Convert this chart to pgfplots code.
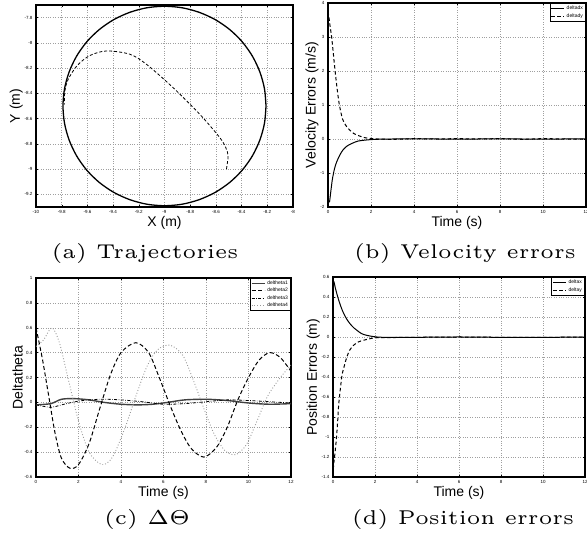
\documentclass[border=0pt]{standalone}
\usepackage{pgfplots}
\pgfplotsset{compat=1.18}
\usepackage{fontspec}
\newfontfamily\hv{Liberation Sans}
\newcommand{\capt}[1]{\scalebox{4}{\fontsize{5}{6}\selectfont #1}}
\begin{document}
\begin{tikzpicture}[x=1pt,y=1pt]
\useasboundingbox (0,0) rectangle (587,541);
\pgfplotsset{
 mat/.style={scale only axis, grid=major,
  major grid style={gray!75, dotted, line width=0.45pt},
  axis line style={line width=1.3pt},
  tick align=inside, major tick length=2.2pt,
  tick style={black, line width=0.4pt},
  tick label style={font=\hv\fontsize{4.5}{5}\selectfont},
  label style={font=\hv\fontsize{14}{16}\selectfont},
  /pgf/number format/assume math mode=true, scaled ticks=false,
  yticklabel style={/pgf/number format/fixed},
  xticklabel style={/pgf/number format/fixed},
  xlabel style={yshift=4pt}, ylabel style={yshift=-5pt},
  legend cell align=left,
  legend style={font=\hv\fontsize{5}{5.5}\selectfont, draw=black, line width=1.1pt,
    inner sep=0.6pt, row sep=-1.5pt, at={(1,1)}, anchor=north east},
  legend image code/.code={\draw[##1] (0pt,0pt) -- (13pt,0pt);}
 },
}
% (a) trajectories
\begin{axis}[mat, at={(36pt,334pt)}, anchor=south west, width=257pt, height=202pt,
  xmin=-10, xmax=-8, ymin=-9.3, ymax=-7.7,
  xtick={-10,-9.8,-9.6,-9.4,-9.2,-9,-8.8,-8.6,-8.4,-8.2,-8},
  ytick={-9.2,-9,-8.8,-8.6,-8.4,-8.2,-8,-7.8},
  xlabel={X (m)}, ylabel={Y (m)}]
\addplot[black, line width=1.3pt, smooth] coordinates {
(-8.21,-8.5) (-8.222,-8.363) (-8.258,-8.23) (-8.316,-8.105) (-8.395,-7.992)
(-8.492,-7.895) (-8.605,-7.816) (-8.73,-7.758) (-8.863,-7.722) (-9,-7.71)
(-9.137,-7.722) (-9.27,-7.758) (-9.395,-7.816) (-9.508,-7.895) (-9.605,-7.992)
(-9.684,-8.105) (-9.742,-8.23) (-9.778,-8.363) (-9.79,-8.5) (-9.778,-8.637)
(-9.742,-8.77) (-9.684,-8.895) (-9.605,-9.008) (-9.508,-9.105) (-9.395,-9.184)
(-9.27,-9.242) (-9.137,-9.278) (-9,-9.29) (-8.863,-9.278) (-8.73,-9.242)
(-8.605,-9.184) (-8.492,-9.105) (-8.395,-9.008) (-8.316,-8.895) (-8.258,-8.77)
(-8.222,-8.637) (-8.21,-8.5)};
\addplot[black, line width=0.8pt, dash pattern=on 3pt off 2pt, smooth] coordinates {
(-8.518,-9.0) (-8.505,-8.896) (-8.523,-8.83) (-8.57,-8.75) (-8.725,-8.566)
(-8.933,-8.355) (-9.14,-8.17) (-9.27,-8.09) (-9.45,-8.064) (-9.58,-8.10)
(-9.68,-8.18) (-9.75,-8.29) (-9.775,-8.38) (-9.78,-8.49)};
\end{axis}
% (b) velocity errors
\begin{axis}[mat, at={(328pt,334pt)}, anchor=south west, width=258pt, height=204pt,
  xmin=0, xmax=12, ymin=-2, ymax=4, xtick={0,2,...,12}, ytick={-2,-1,0,1,2,3,4},
  xlabel={Time (s)}, ylabel={Velocity Errors (m/s)}]
\addplot[black, line width=1pt, smooth] coordinates {
(0,-1.75) (0.03,-1.82) (0.07,-1.85) (0.12,-1.6) (0.2,-1.2) (0.3,-0.88) (0.4,-0.68)
(0.55,-0.47) (0.7,-0.32) (0.9,-0.2) (1.15,-0.12) (1.4,-0.06) (1.77,-0.03) (2.2,-0.01)
(3,0) (4,0.005) (5,0) (6,-0.005) (7,0) (8,0.005) (9,0) (10,-0.005) (11,0) (12,0)};
\addlegendentry{deltadx}
\addplot[black, line width=1pt, dash pattern=on 3.5pt off 2.5pt, smooth] coordinates {
(0,3.75) (0.05,3.55) (0.1,3.3) (0.17,3.0) (0.25,2.5) (0.33,2.0) (0.43,1.45) (0.53,1.0)
(0.68,0.58) (0.85,0.38) (1.0,0.27) (1.2,0.16) (1.46,0.09) (1.7,0.04) (1.93,0.02)
(2.3,0.0) (3,-0.01) (4,0.01) (5,0.0) (6,0.01) (7,0.0) (8,0.01) (9,-0.01) (10,0.01)
(11,0.0) (12,0.0)};
\addlegendentry{deltady}
\end{axis}
% (c) delta theta
\begin{axis}[mat, at={(36pt,64pt)}, anchor=south west, width=255pt, height=199pt,
  xmin=0, xmax=12, ymin=-0.6, ymax=1, xtick={0,2,...,12},
  ytick={-0.6,-0.4,-0.2,0,0.2,0.4,0.6,0.8,1},
  xlabel={Time (s)}, ylabel={Deltatheta}, legend style={row sep=-2pt}]
\addplot[black!75, line width=1.4pt, smooth] coordinates {
(0,-0.02) (0.7,-0.01) (1.2,0.025) (1.8,0.03) (2.5,0.02) (3.2,0) (4,-0.015) (4.8,-0.02)
(5.5,-0.015) (6.2,0) (7,0.02) (8,0.025) (9,0.015) (10,-0.005) (11,-0.015) (12,-0.01)};
\addlegendentry{deltheta1}
\addplot[black, line width=1pt, dash pattern=on 4pt off 2.5pt, smooth] coordinates {
(0,0.6) (0.3,0.35) (0.6,0.05) (0.9,-0.25) (1.2,-0.45) (1.6,-0.53) (2.0,-0.5) (2.5,-0.33)
(3.0,-0.05) (3.5,0.22) (4.0,0.4) (4.7,0.48) (5.3,0.4) (5.8,0.2) (6.3,-0.02) (6.8,-0.22)
(7.3,-0.37) (7.9,-0.44) (8.5,-0.36) (9.0,-0.2) (9.5,0.02) (10.0,0.2) (10.5,0.34)
(11.0,0.4) (11.5,0.36) (12.0,0.25)};
\addlegendentry{deltheta2}
\addplot[black, line width=0.8pt, dash pattern=on 3pt off 1.5pt on 0.6pt off 1.5pt, smooth] coordinates {
(0,-0.02) (0.7,-0.04) (1.2,-0.02) (2,0.01) (3,0.025) (4,0.02) (5,0.005) (6,-0.015)
(7,-0.01) (8,0.005) (9,0.02) (10,0.015) (11,0.005) (12,-0.005)};
\addlegendentry{deltheta3}
\addplot[black!40, line width=0.9pt, dotted, smooth] coordinates {
(0,0.45) (0.35,0.5) (0.75,0.6) (1.1,0.48) (1.5,0.2) (2.0,-0.15) (2.5,-0.4) (3.1,-0.5)
(3.6,-0.44) (4.2,-0.2) (4.7,0.05) (5.2,0.28) (5.7,0.42) (6.3,0.46) (6.9,0.38) (7.4,0.18)
(7.9,-0.05) (8.4,-0.26) (8.9,-0.39) (9.4,-0.42) (9.9,-0.34) (10.4,-0.15) (10.9,0.05)
(11.5,0.2) (12,0.3)};
\addlegendentry{deltheta4}
\end{axis}
% (d) position errors
\begin{axis}[mat, at={(333pt,64pt)}, anchor=south west, width=252pt, height=200pt,
  xmin=0, xmax=12, ymin=-1.4, ymax=0.6, xtick={0,2,...,12},
  ytick={-1.4,-1.2,-1,-0.8,-0.6,-0.4,-0.2,0,0.2,0.4,0.6},
  xlabel={Time (s)}, ylabel={Position Errors (m)}]
\addplot[black, line width=1pt, smooth] coordinates {
(0,0.56) (0.05,0.55) (0.1,0.5) (0.2,0.42) (0.3,0.35) (0.4,0.29) (0.5,0.24) (0.65,0.18)
(0.82,0.13) (1.0,0.09) (1.14,0.067) (1.35,0.035) (1.6,0.017) (2.1,0.0) (3,-0.005)
(6,0) (9,-0.005) (12,0)};
\addlegendentry{deltax}
\addplot[black, line width=1pt, dash pattern=on 3.5pt off 2.5pt, smooth] coordinates {
(0,-1.38) (0.03,-1.28) (0.1,-1.15) (0.16,-1.02) (0.22,-0.85) (0.27,-0.68) (0.35,-0.52)
(0.43,-0.38) (0.55,-0.28) (0.66,-0.2) (0.8,-0.13) (0.98,-0.083) (1.2,-0.05)
(1.45,-0.033) (1.8,-0.015) (2.1,-0.007) (3,-0.005) (6,0) (9,-0.005) (12,0)};
\addlegendentry{deltay}
\end{axis}
\node[anchor=base] at (145,282) {\capt{(a) Trajectories}};
\node[anchor=base] at (465,282) {\capt{(b) Velocity errors}};
\node[anchor=base] at (147,16) {\capt{(c) $\Delta\Theta$}};
\node[anchor=base] at (463,16) {\capt{(d) Position errors}};
\end{tikzpicture}
\end{document}
